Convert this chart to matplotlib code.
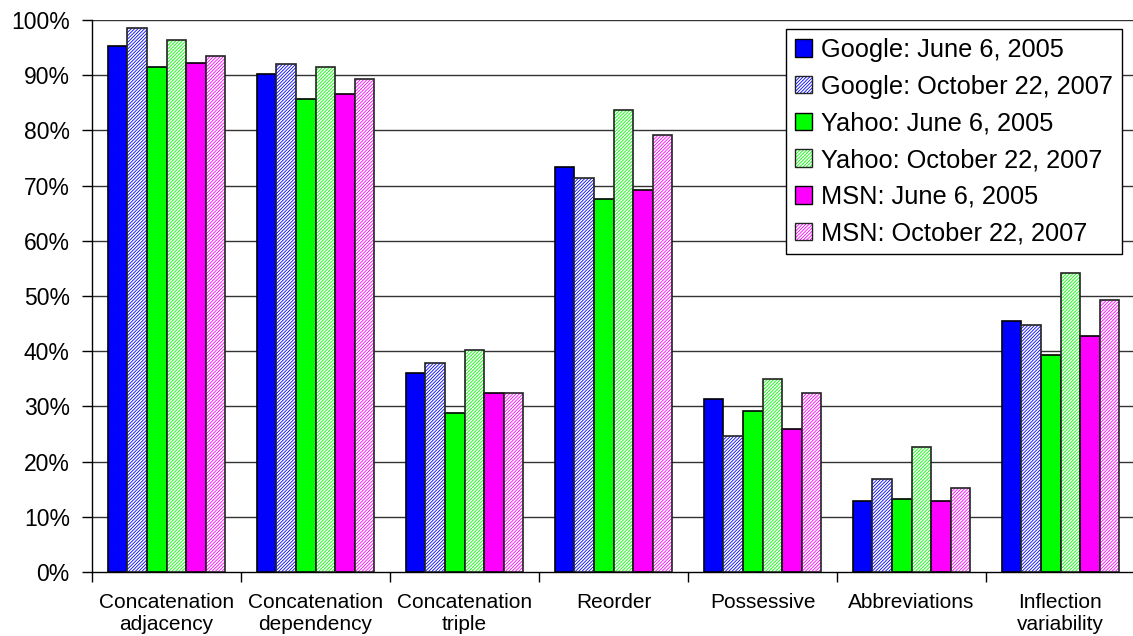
import matplotlib
matplotlib.use("Agg")
import matplotlib.pyplot as plt
from matplotlib.patches import Patch
import numpy as np

plt.rcParams['font.family'] = ['Liberation Sans', 'DejaVu Sans']
plt.rcParams['hatch.linewidth'] = 0.6

categories = ["Concatenation\nadjacency", "Concatenation\ndependency", "Concatenation\ntriple",
              "Reorder", "Possessive", "Abbreviations", "Inflection\nvariability"]
series_labels = ["Google: June 6, 2005", "Google: October 22, 2007",
                 "Yahoo: June 6, 2005", "Yahoo: October 22, 2007",
                 "MSN: June 6, 2005", "MSN: October 22, 2007"]
google_2005 = [95.2, 90.2, 36.1, 73.4, 31.3, 12.8, 45.5]
google_2007 = [98.5, 92.0, 37.9, 71.4, 24.7, 16.8, 44.7]
yahoo_2005 = [91.5, 85.7, 28.8, 67.6, 29.2, 13.2, 39.4]
yahoo_2007 = [96.3, 91.5, 40.2, 83.7, 34.9, 22.7, 54.2]
msn_2005 = [92.3, 86.6, 32.4, 69.2, 25.9, 12.8, 42.7]
msn_2007 = [93.5, 89.4, 32.4, 79.2, 32.5, 15.3, 49.3]
series_values = [google_2005, google_2007, yahoo_2005, yahoo_2007, msn_2005, msn_2007]
series_colors = ["#0000FF", "#0000FF", "#00FF00", "#00FF00", "#FF00FF", "#FF00FF"]
series_hatched = [False, True, False, True, False, True]

fig = plt.figure(figsize=(11.33, 6.36), dpi=100)
ax = fig.add_axes([92/1133, 64/636, 1043/1133, 552/636])

n = len(categories)
x = np.arange(n)
bw = 0.131
HATCH = '//////////'
handles = []
for i, (vals, col, hat) in enumerate(zip(series_values, series_colors, series_hatched)):
    pos = x + (i - 2.5) * bw
    if hat:
        ax.bar(pos, vals, bw, facecolor='white', edgecolor=col, linewidth=0,
               hatch=HATCH, zorder=3)
        ax.bar(pos, vals, bw, fill=False, edgecolor='#222222', linewidth=1.2, zorder=4)
        h = (Patch(facecolor='white', edgecolor=col, linewidth=0, hatch=HATCH),
             Patch(fill=False, edgecolor='#222222', linewidth=1.0))
    else:
        ax.bar(pos, vals, bw, facecolor=col, edgecolor='black', linewidth=1.2, zorder=3)
        h = Patch(facecolor=col, edgecolor='black', linewidth=1.0)
    handles.append(h)

ax.set_xlim(-0.5, n - 0.5)
ax.set_ylim(0, 100)
yt = np.arange(0, 101, 10)
ax.set_yticks(yt)
ax.set_yticklabels([f"{v}%" for v in yt], fontsize=16.5)
for v in yt[1:]:
    ax.axhline(v, color='#333333', linewidth=1.0, zorder=1)

ax.set_xticks(x)
ax.set_xticklabels(categories, fontsize=15)
ax.set_xticks(np.arange(n + 1) - 0.5, minor=True)
ax.tick_params(axis='x', which='major', length=0, pad=15)
ax.tick_params(axis='x', which='minor', length=7, width=1, direction='out')
ax.tick_params(axis='y', length=7, width=1, direction='out', pad=9)

for s in ['top', 'right']:
    ax.spines[s].set_visible(False)
for s in ['left', 'bottom']:
    ax.spines[s].set_color('black')
    ax.spines[s].set_linewidth(1.0)

leg = ax.legend(handles, series_labels, loc='upper right',
                bbox_to_anchor=(0.9875, 0.9837), fontsize=18.3,
                handlelength=0.68, handleheight=0.68, handletextpad=0.35,
                labelspacing=0.5, borderpad=0.35, frameon=True, fancybox=False,
                framealpha=1, edgecolor='black', borderaxespad=0)
leg.get_frame().set_linewidth(1.0)
leg.set_zorder(10)

fig.savefig("out.png", dpi=100)
